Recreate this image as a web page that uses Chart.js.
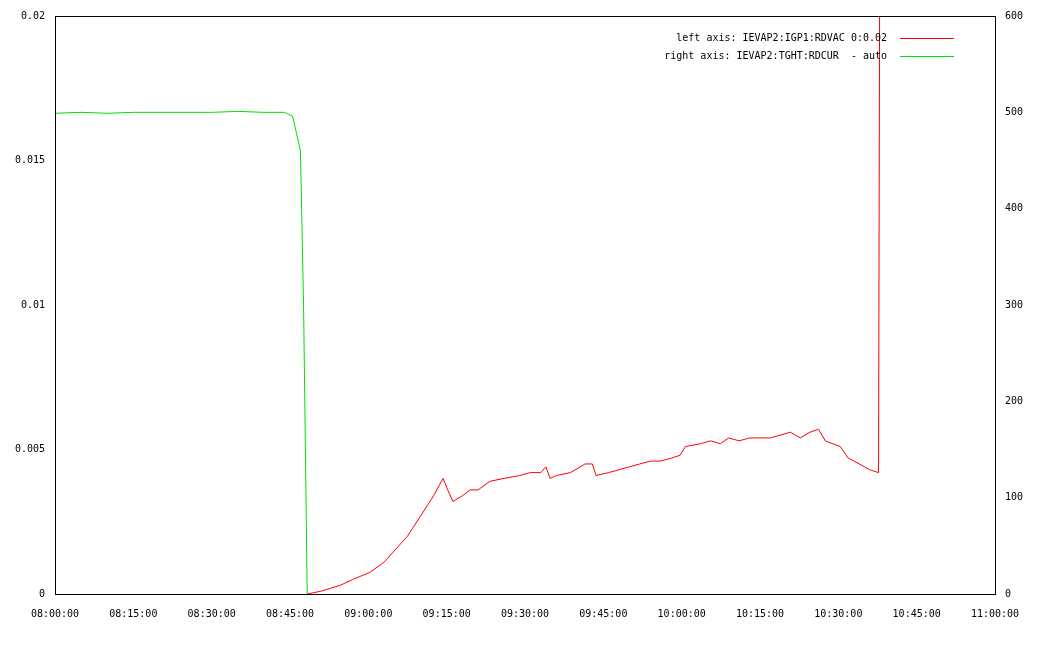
<!DOCTYPE html>
<html>
<head>
<meta charset="utf-8">
<script src="https://cdn.jsdelivr.net/npm/chart.js@4/dist/chart.umd.min.js"></script>
<style>
  html, body { margin: 0; padding: 0; background: #fff; }
  #wrap { width: 1046px; height: 657px; }
</style>
</head>
<body>
<div id="wrap"><canvas id="c" width="1046" height="657"></canvas></div>
<script>
// minutes after 08:00
const greenMinutes = [0, 5, 10, 15, 20, 25, 30, 35, 40, 44, 45.5, 47, 47.6, 48.3];
const greenValues  = [499, 500, 499, 500, 500, 500, 500, 501, 500, 500, 496, 460, 300, 0];

const redMinutes = [48.3, 51, 54.6, 57, 60.3, 63, 65, 67.5, 70, 72.5, 74.3, 75.2, 76.2, 78, 79.5, 81, 83.3, 86, 89, 91, 93, 94, 94.8, 96, 98.7,
  101.5, 102.9, 103.6, 106, 108, 110, 112, 114, 116, 118, 119.7, 120.7, 123.6, 125.5, 127.4, 129, 131, 133, 135, 137, 139, 140.8,
  142.7, 144.6, 146.2, 147.5, 150.4, 151.9, 153, 155, 156, 157.7, 157.9];
const redValues = [0, 0.0001, 0.0003, 0.0005, 0.00075, 0.0011, 0.0015, 0.002, 0.0027, 0.0034, 0.004, 0.0036, 0.0032, 0.0034, 0.0036, 0.0036, 0.0039, 0.004, 0.0041, 0.0042, 0.0042, 0.0044, 0.004, 0.0041, 0.0042,
  0.0045, 0.0045, 0.0041, 0.0042, 0.0043, 0.0044, 0.0045, 0.0046, 0.0046, 0.0047, 0.0048, 0.0051, 0.0052, 0.0053, 0.0052, 0.0054, 0.0053, 0.0054, 0.0054, 0.0054, 0.0055, 0.0056,
  0.0054, 0.0056, 0.0057, 0.0053, 0.0051, 0.0047, 0.0046, 0.0044, 0.0043, 0.0042, 0.02];

const xTicks = [0, 15, 30, 45, 60, 75, 90, 105, 120, 135, 150, 165, 180];
const leftTicks = [0, 0.005, 0.01, 0.015, 0.02];
const rightTicks = [0, 100, 200, 300, 400, 500, 600];

const labelRed = 'left axis: IEVAP2:IGP1:RDVAC 0:0.02';
const labelGreen = 'right axis: IEVAP2:TGHT:RDCUR  - auto';

const font = { family: 'DejaVu Sans Mono', size: 10 };

function fmtTime(m) {
  const h = Math.floor(m / 60) + 8, mm = m % 60;
  return String(h).padStart(2, '0') + ':' + String(mm).padStart(2, '0') + ':00';
}

const legendPlugin = {
  id: 'gnuLegend',
  afterDatasetsDraw(chart) {
    const ctx = chart.ctx;
    ctx.save();
    ctx.font = '10px "DejaVu Sans Mono"';
    ctx.textAlign = 'right';
    ctx.textBaseline = 'middle';
    chart.data.datasets.forEach((ds, i) => {
      const y = 38 + i * 18;
      ctx.fillStyle = '#000';
      ctx.fillText(ds.label, 887, y);
      ctx.strokeStyle = ds.borderColor;
      ctx.lineWidth = 1;
      ctx.beginPath();
      ctx.moveTo(900, y + 0.5);
      ctx.lineTo(954, y + 0.5);
      ctx.stroke();
    });
    ctx.restore();
  }
};

new Chart(document.getElementById('c'), {
  type: 'line',
  data: {
    datasets: [
      { label: labelRed, data: redMinutes.map((m, i) => ({ x: m, y: redValues[i] })), borderColor: '#ff0000', borderWidth: 1, pointRadius: 0, yAxisID: 'yL', tension: 0 },
      { label: labelGreen, data: greenMinutes.map((m, i) => ({ x: m, y: greenValues[i] })), borderColor: '#00dd00', borderWidth: 1, pointRadius: 0, yAxisID: 'yR', tension: 0 }
    ]
  },
  options: {
    responsive: false,
    animation: false,
    layout: { padding: { top: 0, bottom: 0, left: 0, right: 0 } },
    plugins: { legend: { display: false }, tooltip: { enabled: false } },
    scales: {
      x: {
        type: 'linear', min: 0, max: 180,
        afterBuildTicks: s => { s.ticks = xTicks.map(v => ({ value: v })); },
        afterFit: s => { s.height = 63; },
        ticks: { callback: v => fmtTime(v), color: '#000', font, maxRotation: 0, padding: 14 },
        grid: { display: false, drawTicks: false },
        border: { color: '#000' }
      },
      yL: {
        position: 'left', min: 0, max: 0.02,
        afterBuildTicks: s => { s.ticks = leftTicks.map(v => ({ value: v })); },
        afterFit: s => { s.width = 55; },
        ticks: { callback: v => String(v), color: '#000', font, padding: 10 },
        grid: { display: false, drawTicks: false },
        border: { color: '#000' }
      },
      yR: {
        position: 'right', min: 0, max: 600,
        afterBuildTicks: s => { s.ticks = rightTicks.map(v => ({ value: v })); },
        afterFit: s => { s.width = 51; },
        ticks: { color: '#000', font, padding: 10 },
        grid: { display: false, drawTicks: false },
        border: { color: '#000' }
      }
    }
  },
  plugins: [legendPlugin, {
    id: 'frame',
    afterDraw(chart) {
      const a = chart.chartArea, ctx = chart.ctx;
      ctx.save();
      ctx.strokeStyle = '#000';
      ctx.lineWidth = 1;
      ctx.strokeRect(Math.round(a.left) + 0.5, Math.round(a.top) + 0.5, Math.round(a.right - a.left), Math.round(a.bottom - a.top));
      ctx.restore();
    }
  }]
});
</script>
</body>
</html>
